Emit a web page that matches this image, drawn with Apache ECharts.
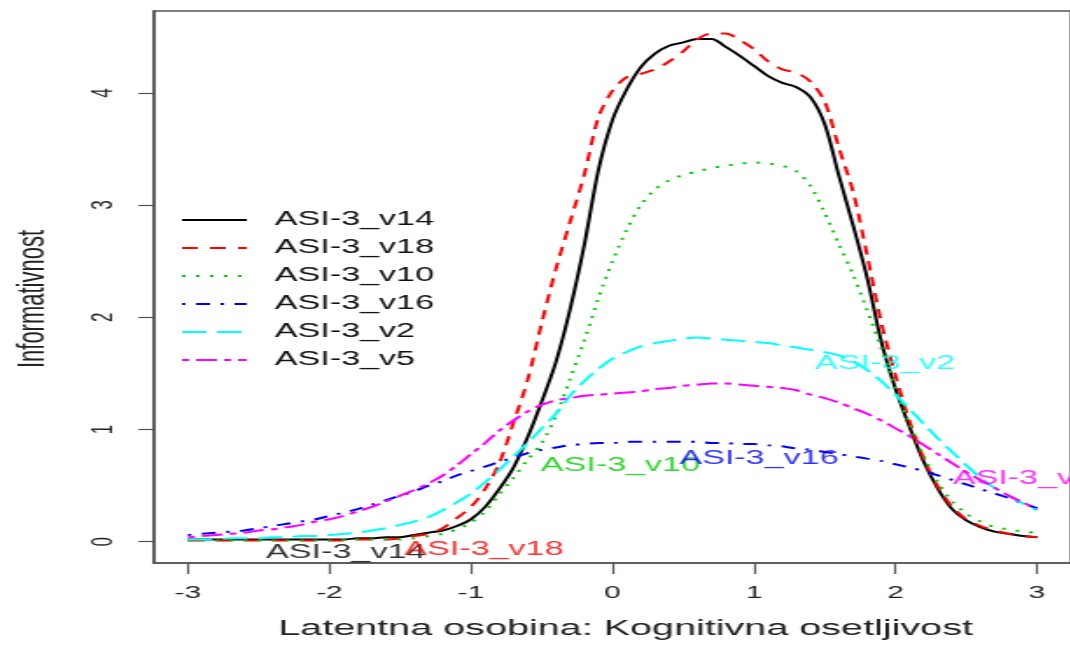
<!DOCTYPE html>
<html>
<head>
    <meta charset="utf-8">
    <title>Informativnost</title>
    <script src="https://cdn.jsdelivr.net/npm/echarts@6/dist/echarts.min.js"></script>
    <style>
        html, body { margin: 0; padding: 0; background: #fff; overflow: hidden; }
        /* the source picture is an R plot stretched sideways, so the chart is drawn narrow and widened */
        #chart { width: 612px; height: 659px; transform: scaleX(1.75); transform-origin: 0 0; }
    </style>
</head>
<body>
    <div id="chart"></div>
    <script>
        var theta = [-3.0, -2.9, -2.8, -2.7, -2.6, -2.5, -2.4, -2.3, -2.2, -2.1, -2.0, -1.9, -1.8, -1.7, -1.6, -1.5, -1.4, -1.3, -1.2, -1.1,
            -1.0, -0.9, -0.8, -0.7, -0.6, -0.5, -0.4, -0.3, -0.2, -0.1, 0.0, 0.1, 0.2, 0.3, 0.4, 0.5, 0.6, 0.7, 0.8, 0.9,
            1.0, 1.1, 1.2, 1.3, 1.4, 1.5, 1.6, 1.7, 1.8, 1.9, 2.0, 2.1, 2.2, 2.3, 2.4, 2.5, 2.6, 2.7, 2.8, 2.9, 3.0];

        var v14 = [0.02, 0.02, 0.02, 0.02, 0.02, 0.02, 0.02, 0.02, 0.02, 0.02, 0.02, 0.02, 0.03, 0.03, 0.04, 0.04, 0.06, 0.08, 0.10, 0.14,
            0.20, 0.31, 0.47, 0.66, 0.93, 1.25, 1.60, 2.07, 2.64, 3.31, 3.76, 4.03, 4.23, 4.35, 4.42, 4.45, 4.48, 4.48, 4.41, 4.33,
            4.24, 4.15, 4.09, 4.05, 3.96, 3.72, 3.26, 2.82, 2.35, 1.78, 1.36, 1.02, 0.71, 0.47, 0.29, 0.19, 0.13, 0.09, 0.07, 0.05, 0.04];
        var v18 = [0.01, 0.01, 0.01, 0.01, 0.01, 0.01, 0.01, 0.01, 0.01, 0.01, 0.01, 0.01, 0.02, 0.02, 0.02, 0.03, 0.05, 0.07, 0.12, 0.21,
            0.31, 0.47, 0.70, 1.06, 1.44, 1.95, 2.43, 2.85, 3.27, 3.78, 4.02, 4.14, 4.17, 4.21, 4.28, 4.37, 4.48, 4.53, 4.53, 4.47,
            4.39, 4.28, 4.21, 4.18, 4.10, 3.92, 3.51, 3.12, 2.55, 1.95, 1.48, 1.07, 0.74, 0.49, 0.31, 0.20, 0.14, 0.10, 0.07, 0.05, 0.04];
        var v10 = [0.01, 0.01, 0.01, 0.01, 0.01, 0.01, 0.01, 0.01, 0.01, 0.01, 0.01, 0.02, 0.02, 0.02, 0.02, 0.02, 0.03, 0.05, 0.07, 0.11,
            0.17, 0.27, 0.42, 0.57, 0.73, 0.88, 1.12, 1.45, 1.79, 2.17, 2.50, 2.78, 3.00, 3.14, 3.22, 3.27, 3.30, 3.33, 3.35, 3.37,
            3.38, 3.37, 3.35, 3.30, 3.17, 2.93, 2.65, 2.38, 2.06, 1.72, 1.36, 1.05, 0.76, 0.53, 0.36, 0.25, 0.18, 0.13, 0.11, 0.09, 0.08];
        var v16 = [0.06, 0.07, 0.08, 0.09, 0.10, 0.12, 0.14, 0.16, 0.18, 0.20, 0.23, 0.26, 0.29, 0.33, 0.37, 0.41, 0.45, 0.50, 0.54, 0.59,
            0.63, 0.67, 0.71, 0.75, 0.79, 0.82, 0.84, 0.86, 0.87, 0.88, 0.88, 0.89, 0.89, 0.89, 0.89, 0.89, 0.89, 0.88, 0.88, 0.87,
            0.87, 0.86, 0.85, 0.83, 0.82, 0.80, 0.78, 0.76, 0.74, 0.72, 0.69, 0.66, 0.63, 0.59, 0.55, 0.51, 0.47, 0.43, 0.39, 0.34, 0.30];
        var v2 = [0.02, 0.02, 0.02, 0.03, 0.03, 0.03, 0.04, 0.04, 0.05, 0.05, 0.06, 0.07, 0.08, 0.10, 0.12, 0.15, 0.18, 0.22, 0.28, 0.35,
            0.43, 0.53, 0.64, 0.76, 0.88, 1.01, 1.14, 1.30, 1.43, 1.54, 1.63, 1.69, 1.74, 1.77, 1.79, 1.81, 1.82, 1.81, 1.80, 1.79,
            1.78, 1.77, 1.75, 1.73, 1.71, 1.69, 1.66, 1.61, 1.53, 1.43, 1.31, 1.18, 1.05, 0.92, 0.80, 0.68, 0.57, 0.48, 0.41, 0.34, 0.28];
        var v5 = [0.04, 0.05, 0.06, 0.07, 0.08, 0.10, 0.11, 0.13, 0.15, 0.18, 0.20, 0.23, 0.27, 0.31, 0.36, 0.41, 0.46, 0.52, 0.59, 0.68,
            0.78, 0.88, 0.99, 1.08, 1.16, 1.22, 1.26, 1.28, 1.30, 1.31, 1.32, 1.33, 1.34, 1.36, 1.37, 1.39, 1.40, 1.41, 1.41, 1.40,
            1.39, 1.38, 1.37, 1.35, 1.31, 1.28, 1.24, 1.19, 1.14, 1.08, 1.01, 0.94, 0.86, 0.78, 0.70, 0.62, 0.55, 0.48, 0.41, 0.35, 0.29];

        var seriesNames = ['ASI-3_v14', 'ASI-3_v18', 'ASI-3_v10', 'ASI-3_v16', 'ASI-3_v2', 'ASI-3_v5'];
        var seriesValues = [v14, v18, v10, v16, v2, v5];
        var seriesColors = ['#000000', '#ff0000', '#00cd00', '#0000ff', '#00ffff', '#ff00ff'];
        var seriesDash = ['solid', [9, 7], [2, 6], [2, 6, 8, 6], [14, 6], [4, 4, 12, 4]];

        // text labels inside the plot (data coordinates)
        var labelTheta = [-1.885, -0.909, 0.056, 1.035, 1.927, 2.90];
        var labelInfo = [-0.10, -0.067, 0.68, 0.74, 1.59, 0.56];

        var xTicks = [-3, -2, -1, 0, 1, 2, 3];
        var yTicks = [0, 1, 2, 3, 4];

        var font = 'Liberation Sans, Arial, Helvetica, sans-serif';
        var myChart = echarts.init(document.getElementById('chart'));

        var series = seriesNames.map(function (name, i) {
            return {
                name: name,
                type: 'line',
                smooth: 0.3,
                symbol: 'none',
                data: theta.map(function (t, k) { return [t, seriesValues[i][k]]; }),
                lineStyle: { color: seriesColors[i], width: 2, type: seriesDash[i] },
                itemStyle: { color: seriesColors[i] },
                z: 2
            };
        });
        series.push({
            name: 'labels',
            type: 'scatter',
            symbolSize: 0,
            silent: true,
            z: 5,
            label: {
                show: true,
                position: 'inside',
                fontFamily: font,
                fontSize: 19.5,
                formatter: function (p) { return p.name; }
            },
            data: seriesNames.map(function (name, i) {
                return { name: name, value: [labelTheta[i], labelInfo[i]], label: { color: seriesColors[i] } };
            })
        });

        var option = {
            animation: false,
            backgroundColor: '#fff',
            grid: {
                left: 85, top: 11, width: 529.5, height: 552,
                show: true, borderColor: '#555', borderWidth: 1.6, backgroundColor: 'transparent'
            },
            legend: {
                data: seriesNames,
                orient: 'vertical',
                left: 103,
                top: 210,
                padding: 0,
                itemWidth: 37,
                itemHeight: 20,
                itemGap: 8,
                itemStyle: { color: 'rgba(0,0,0,0)', opacity: 0, borderWidth: 0 },
                textStyle: { fontFamily: font, fontSize: 19.5, color: '#111', padding: [0, 0, 0, 11] }
            },
            xAxis: {
                type: 'value',
                min: -3.24, max: 3.24,
                name: 'Latentna osobina: Kognitivna osetljivost',
                nameLocation: 'middle',
                nameGap: 54,
                nameTextStyle: { fontFamily: font, fontSize: 22.6, color: '#222', padding: [0, 0, 0, 15] },
                axisLine: { show: true, onZero: false, lineStyle: { color: '#555', width: 1.6 } },
                axisTick: { show: true, length: 11, customValues: xTicks, lineStyle: { color: '#555', width: 1.2 } },
                axisLabel: { customValues: xTicks, margin: 22, fontFamily: font, fontSize: 17, color: '#222' },
                splitLine: { show: false }
            },
            yAxis: {
                type: 'value',
                min: -0.19, max: 4.73,
                name: 'Informativnost',
                nameLocation: 'middle',
                nameGap: 58,
                nameRotate: 90,
                nameTextStyle: { fontFamily: font, fontSize: 22, color: '#222', padding: [0, 24, 0, 0] },
                axisLine: { show: true, onZero: false, lineStyle: { color: '#555', width: 1.6 } },
                axisTick: { show: true, length: 9, customValues: yTicks, lineStyle: { color: '#555', width: 1.2 } },
                axisLabel: { customValues: yTicks, rotate: 90, margin: 20, fontFamily: font, fontSize: 17, color: '#222' },
                splitLine: { show: false }
            },
            series: series
        };
        myChart.setOption(option);
    </script>
</body>
</html>
